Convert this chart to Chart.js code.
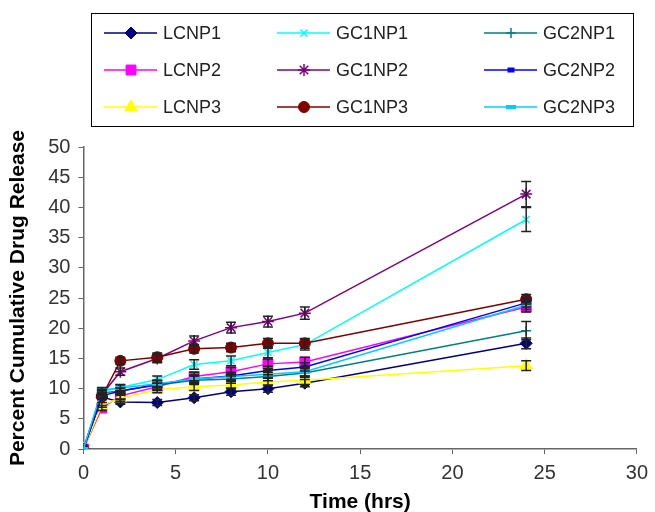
<!DOCTYPE html>
<html>
<head>
<meta charset="utf-8">
<script src="https://cdn.jsdelivr.net/npm/chart.js@4.4.1/dist/chart.umd.min.js"></script>
<style>
  html, body { margin: 0; padding: 0; background: #fff; }
  #wrap { width: 655px; height: 512px; }
</style>
</head>
<body>
<div id="wrap"><canvas id="chart" width="655" height="512"></canvas></div>
<script>
// release profiles
const times = [0, 1, 2, 4, 6, 8, 10, 12, 24];

const lcnp1 = [0, 8.6, 7.8, 7.7, 8.5, 9.5, 10.0, 10.9, 17.5];
const lcnp2 = [0, 6.8, 8.8, 10.3, 12.0, 12.8, 14.1, 14.4, 23.5];
const lcnp3 = [0, 7.3, 8.4, 9.8, 10.3, 10.6, 11.1, 11.4, 13.8];
const gc1np1 = [0, 9.5, 10.2, 11.5, 14.0, 14.6, 16.0, 17.3, 38.0];
const gc1np2 = [0, 9.0, 12.8, 15.0, 17.9, 20.1, 21.1, 22.5, 42.2];
const gc1np3 = [0, 8.7, 14.6, 15.2, 16.6, 16.8, 17.5, 17.5, 24.8];
const gc2np1 = [0, 9.3, 9.6, 10.6, 11.4, 11.6, 12.0, 12.6, 19.6];
const gc2np2 = [0, 8.8, 9.6, 10.7, 11.6, 12.1, 13.0, 13.6, 24.2];
const gc2np3 = [0, 9.8, 10.1, 10.8, 11.6, 12.0, 12.4, 12.8, 23.8];

const errLcnp1 = [0, 0.4, 0.4, 0.5, 0.5, 0.6, 0.6, 0.6, 0.9];
const errLcnp2 = [0, 0.4, 0.5, 0.6, 0.7, 0.7, 0.8, 0.8, 0.8];
const errLcnp3 = [0, 0.4, 0.5, 0.5, 0.6, 0.6, 0.6, 0.7, 0.8];
const errGc1np1 = [0, 0.4, 0.5, 0.6, 0.8, 0.8, 0.9, 0.9, 2.0];
const errGc1np2 = [0, 0.4, 0.6, 0.7, 0.8, 0.9, 0.9, 1.0, 2.1];
const errGc1np3 = [0, 0.5, 0.6, 0.7, 0.7, 0.7, 0.8, 0.8, 0.8];
const errGc2np1 = [0, 0.4, 0.5, 0.8, 0.7, 0.7, 0.7, 0.7, 1.5];
const errGc2np2 = [0, 0.4, 0.5, 0.6, 0.6, 0.6, 0.7, 0.7, 0.7];
const errGc2np3 = [0, 0.4, 0.5, 0.6, 0.6, 0.6, 0.6, 0.7, 0.7];

const seriesNames = ['LCNP1', 'LCNP2', 'LCNP3', 'GC1NP1', 'GC1NP2', 'GC1NP3', 'GC2NP1', 'GC2NP2', 'GC2NP3'];
const seriesValues = [lcnp1, lcnp2, lcnp3, gc1np1, gc1np2, gc1np3, gc2np1, gc2np2, gc2np3];
const seriesErrors = [errLcnp1, errLcnp2, errLcnp3, errGc1np1, errGc1np2, errGc1np3, errGc2np1, errGc2np2, errGc2np3];

const xTicks = [0, 5, 10, 15, 20, 25, 30];
const yTicks = [0, 5, 10, 15, 20, 25, 30, 35, 40, 45, 50];

// excel-ish styling per series
const styles = [
  { color: '#000080', point: 'rectRot', r: 6, bw: 1 },
  { color: '#FF00FF', point: 'rect', r: 7, bw: 1 },
  { color: '#FFFF00', point: 'triangle', r: 7, bw: 1 },
  { color: '#00FFFF', point: 'crossRot', r: 5, bw: 1.5 },
  { color: '#800080', point: 'star', r: 6, bw: 1.5 },
  { color: '#800000', point: 'circle', r: 5.5, bw: 1 },
  { color: '#008080', point: 'cross', r: 5, bw: 1.5 },
  { color: '#0000FF', point: 'line', r: 3.5, bw: 5 },
  { color: '#00CCFF', point: 'line', r: 5, bw: 4 }
];

const datasets = seriesNames.map((name, i) => ({
  label: name,
  data: times.map((t, j) => ({ x: t, y: seriesValues[i][j] })),
  errors: seriesErrors[i],
  borderColor: styles[i].color,
  backgroundColor: styles[i].color,
  borderWidth: 1.5,
  tension: 0,
  pointStyle: styles[i].point,
  pointRadius: styles[i].r,
  pointBorderWidth: styles[i].bw,
  pointBackgroundColor: styles[i].color,
  pointBorderColor: styles[i].color,
  order: seriesNames.length - i
}));

const errorBars = {
  id: 'errorBars',
  afterDatasetsDraw(chart) {
    const ctx = chart.ctx;
    const ys = chart.scales.y;
    ctx.save();
    ctx.strokeStyle = '#222';
    ctx.lineWidth = 1.5;
    chart.data.datasets.forEach((ds, i) => {
      const meta = chart.getDatasetMeta(i);
      meta.data.forEach((pt, j) => {
        const e = ds.errors[j];
        if (!e) return;
        const v = ds.data[j].y;
        const top = ys.getPixelForValue(v + e);
        const bot = ys.getPixelForValue(v - e);
        const x = pt.x;
        ctx.beginPath();
        ctx.moveTo(x, top); ctx.lineTo(x, bot);
        ctx.moveTo(x - 5, top); ctx.lineTo(x + 5, top);
        ctx.moveTo(x - 5, bot); ctx.lineTo(x + 5, bot);
        ctx.stroke();
      });
    });
    ctx.restore();
  }
};

// boxed legend, 3 columns like the original
const boxLegend = {
  id: 'boxLegend',
  afterDraw(chart) {
    const ctx = chart.ctx;
    ctx.save();
    ctx.strokeStyle = '#000';
    ctx.lineWidth = 1;
    ctx.strokeRect(91.5, 13.5, 542, 113);
    const colX = [104, 277, 484];
    const rowY = [33, 70, 107];
    ctx.font = '18px "Liberation Sans", Arial, sans-serif';
    ctx.textBaseline = 'middle';
    chart.data.datasets.forEach((ds, i) => {
      const x = colX[Math.floor(i / 3)];
      const y = rowY[i % 3];
      ctx.strokeStyle = ds.borderColor;
      ctx.lineWidth = 1.5;
      ctx.beginPath();
      ctx.moveTo(x, y); ctx.lineTo(x + 53, y);
      ctx.stroke();
      ctx.fillStyle = ds.pointBackgroundColor;
      ctx.strokeStyle = ds.pointBorderColor;
      ctx.lineWidth = ds.pointBorderWidth;
      Chart.helpers.drawPoint(ctx, { pointStyle: ds.pointStyle, radius: ds.pointRadius, rotation: 0, borderWidth: ds.pointBorderWidth }, x + 27, y);
      ctx.fillStyle = '#222';
      ctx.fillText(ds.label, x + 59, y + 1);
    });
    ctx.restore();
  }
};

new Chart(document.getElementById('chart'), {
  type: 'line',
  data: { datasets },
  options: {
    responsive: false,
    animation: false,
    layout: { padding: { top: 147, right: 3, left: 6, bottom: 0 } },
    plugins: { legend: { display: false }, tooltip: { enabled: false } },
    scales: {
      x: {
        type: 'linear',
        min: 0, max: 30,
        afterBuildTicks: s => { s.ticks = xTicks.map(v => ({ value: v })); },
        grid: { drawOnChartArea: false, drawTicks: true, tickLength: 5, color: '#666' },
        border: { color: '#666', width: 1.5 },
        ticks: { color: '#333', font: { family: '"Liberation Sans", Arial', size: 20 }, padding: 7 },
        title: { display: true, text: 'Time (hrs)', color: '#000', font: { family: '"Liberation Sans", Arial', size: 21, weight: 'bold', lineHeight: 0.95 }, padding: { top: 0, bottom: 0 } }
      },
      y: {
        min: 0, max: 50,
        afterBuildTicks: s => { s.ticks = yTicks.map(v => ({ value: v })); },
        grid: { drawOnChartArea: false, drawTicks: true, tickLength: 5, color: '#666' },
        border: { color: '#666', width: 1.5 },
        ticks: { color: '#333', font: { family: '"Liberation Sans", Arial', size: 20 }, padding: 8 },
        title: { display: true, text: 'Percent Cumulative Drug Release', color: '#000', font: { family: '"Liberation Sans", Arial', size: 21, weight: 'bold' }, padding: { top: 0, bottom: 9 } }
      }
    }
  },
  plugins: [errorBars, boxLegend]
});
</script>
</body>
</html>
